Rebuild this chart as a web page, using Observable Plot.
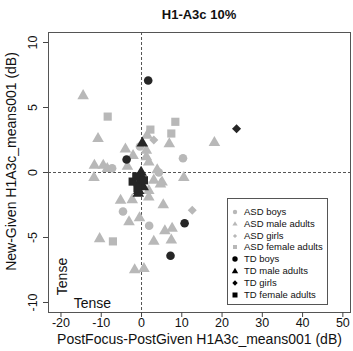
<!DOCTYPE html>
<html>
<head>
<meta charset="utf-8">
<script src="https://cdn.jsdelivr.net/npm/d3@7"></script>
<script src="https://cdn.jsdelivr.net/npm/@observablehq/plot@0.6"></script>
<style>
  html, body { margin: 0; padding: 0; background: #fff; }
  #wrap { position: relative; width: 353px; height: 351px; font-family: "Liberation Sans", Arial, sans-serif; }
  #title { position: absolute; left: 48px; width: 302px; top: 7px; text-align: center; font-weight: bold; font-size: 13px; color: #111; }
  #legend { position: absolute; left: 227px; top: 198px; width: 101px; height: 107px; border: 1px solid #555; background: #fff; box-sizing: border-box; }
  .lrow { position: absolute; left: 0; height: 12px; font-size: 9.5px; color: #111; line-height: 12px; white-space: nowrap; }
  .lrow svg { position: absolute; left: 3px; top: 2px; }
  .lrow span { position: absolute; left: 16px; top: 0; }
</style>
</head>
<body>
<div id="wrap">
  <div id="title">H1-A3c 10%</div>
</div>
<script>
// ---- data ----
const asdBoysX = [-0.4, 10.3, -7.3, 4.3, -4.6, 1.9];
const asdBoysY = [2.0, 1.1, 0.33, 0.0, -3.0, -4.1];

const asdMaleX = [-14.5, -10.8, 1.4, 6.9, -4.0, -2.1, 1.2, 1.2, 1.8, -11.7, -9.5, -8.5, -3.5, -11.8, 10.5, 18.1, 3.9, 5.1, 3.05, 1.8, 1.8, 4.7, -5.2, -2.3, -3.1, -0.5, 5.4, 5.8, 7.6, 3.05, 7.4, -10.4, -1.7, 0.6];
const asdMaleY = [5.9, 2.6, 2.85, 2.2, 1.8, 1.3, 1.7, 1.2, 0.8, 0.55, 0.55, 0.3, 0.46, -0.4, -0.4, 2.3, 0.2, -0.75, -0.6, -1.4, -1.9, -0.9, -2.15, -2.1, -3.8, -3.5, -2.5, -4.5, -4.3, -5.3, -5.2, -5.1, -7.5, -7.4];

const asdGirlsX = [3.05, 12.6];
const asdGirlsY = [2.5, -2.9];

const asdFemaleX = [-8.4, 8.4, 2.2, 7.4, -7.1];
const asdFemaleY = [4.3, 3.9, 3.3, 3.0, -5.3];

const tdBoysX = [1.66, -3.7, 10.7, 7.2];
const tdBoysY = [7.08, 1.0, -3.9, -6.4];

const tdMaleX = [0.2, -0.1, 0.3, -0.6, 0.4, -0.7, 0.0, -0.3, -0.8];
const tdMaleY = [2.25, 0.0, -0.5, -0.8, -1.1, -1.4, -1.0, -0.2, -1.6];

const tdGirlsX = [23.6, -0.2];
const tdGirlsY = [3.36, -0.6];

const tdFemaleX = [-2.2, -1.3, 0.6, -1.0];
const tdFemaleY = [-0.7, -0.3, -0.6, -1.2];

const groupNames = ["ASD boys", "ASD male adults", "ASD girls", "ASD female adults", "TD boys", "TD male adults", "TD girls", "TD female adults"];
const xTicks = [-20, -10, 0, 10, 20, 30, 40, 50];
const yTicks = [-10, -5, 0, 5, 10];
const xTitle = "PostFocus-PostGiven H1A3c_means001 (dB)";
const yTitle = "New-Given H1A3c_means001 (dB)";
const annoText = ["Tense", "Tense"];

// ---- symbols (R-like pch 16, 17, 18, 15) ----
const symCircle = {draw(c, s) { const r = Math.sqrt(s / Math.PI); c.moveTo(r, 0); c.arc(0, 0, r, 0, 2 * Math.PI); c.closePath(); }};
const symTri = {draw(c, s) { const r = Math.sqrt(s / Math.PI); c.moveTo(0, -1.555 * r); c.lineTo(1.347 * r, 0.778 * r); c.lineTo(-1.347 * r, 0.778 * r); c.closePath(); }};
const symDiamond = {draw(c, s) { const r = Math.sqrt(s / Math.PI) * 1.05; c.moveTo(0, -r); c.lineTo(r, 0); c.lineTo(0, r); c.lineTo(-r, 0); c.closePath(); }};
const symSquare = {draw(c, s) { const r = Math.sqrt(s / Math.PI) * 0.95; c.rect(-r, -r, 2 * r, 2 * r); }};

const gray = "#b8b8b8", dark = "#262626";
const zip = (xs, ys) => xs.map((x, i) => ({x, y: ys[i]}));
const groups = [
  [zip(asdBoysX, asdBoysY), symCircle, gray],
  [zip(asdMaleX, asdMaleY), symTri, gray],
  [zip(asdGirlsX, asdGirlsY), symDiamond, gray],
  [zip(asdFemaleX, asdFemaleY), symSquare, gray],
  [zip(tdBoysX, tdBoysY), symCircle, dark],
  [zip(tdMaleX, tdMaleY), symTri, dark],
  [zip(tdGirlsX, tdGirlsY), symDiamond, dark],
  [zip(tdFemaleX, tdFemaleY), symSquare, dark]
];

const chart = Plot.plot({
  width: 353, height: 351,
  marginLeft: 48, marginRight: 3, marginTop: 32, marginBottom: 39,
  x: {domain: [-23.1, 51.9]},
  y: {domain: [-10.77, 10.77]},
  style: {fontFamily: "'Liberation Sans', Arial, sans-serif", fontSize: "12.5px", background: "transparent", color: "#111"},
  marks: [
    Plot.ruleX([0], {stroke: "#555", strokeDasharray: "3,2"}),
    Plot.ruleY([0], {stroke: "#555", strokeDasharray: "3,2"}),
    ...groups.map(([d, sym, col]) => Plot.dot(d, {x: "x", y: "y", symbol: sym, r: 4.3, fill: col, stroke: "none"})),
    Plot.frame({stroke: "#555"}),
    Plot.axisX({ticks: xTicks, tickSize: 5, tickPadding: 1, tickFormat: d => String(d), label: null, stroke: "#444"}),
    Plot.axisY({ticks: yTicks, tickSize: 5, tickFormat: () => "", label: null, stroke: "#444"}),
    Plot.text(yTicks, {y: d => d, text: d => String(d), frameAnchor: "left", textAnchor: "middle", dx: -16, rotate: -90, fontSize: 12.5, fill: "#111"}),
    Plot.text([xTitle], {text: d => d, frameAnchor: "bottom", dy: 31, fontSize: 14, fill: "#111"}),
    Plot.text([yTitle], {text: d => d, frameAnchor: "left", textAnchor: "middle", dx: -37, dy: -11, rotate: -90, fontSize: 14, fill: "#111"}),
    Plot.text([annoText[0]], {x: -19.7, y: -8.0, text: d => d, rotate: -90, fontSize: 14, fill: "#111"}),
    Plot.text([annoText[1]], {x: -12.2, y: -10.1, text: d => d, fontSize: 14, fill: "#111"})
  ]
});
chart.style.position = "absolute";
chart.style.left = "0px";
chart.style.top = "0px";
const wrap = document.getElementById("wrap");
wrap.insertBefore(chart, wrap.firstChild);

// ---- legend ----
const legend = document.createElement("div");
legend.id = "legend";
const legendSyms = [
  ['<circle cx="4" cy="4" r="2.2"/>', gray],
  ['<path d="M4,1.3L6.6,5.6L1.4,5.6Z"/>', gray],
  ['<path d="M4,1.9L6.1,4L4,6.1L1.9,4Z"/>', gray],
  ['<rect x="2" y="2" width="4" height="4"/>', gray],
  ['<circle cx="4" cy="4" r="2.7"/>', "#000"],
  ['<path d="M4,0.8L7.2,6.2L0.8,6.2Z"/>', "#000"],
  ['<path d="M4,1.3L6.7,4L4,6.7L1.3,4Z"/>', "#000"],
  ['<rect x="1.5" y="1.5" width="5" height="5"/>', "#000"]
];
groupNames.forEach((name, i) => {
  const row = document.createElement("div");
  row.className = "lrow";
  row.style.top = (7 + i * 11.8) + "px";
  row.innerHTML = `<svg width="8" height="8" fill="${legendSyms[i][1]}">${legendSyms[i][0]}</svg><span>${name}</span>`;
  legend.appendChild(row);
});
wrap.appendChild(legend);
</script>
</body>
</html>
